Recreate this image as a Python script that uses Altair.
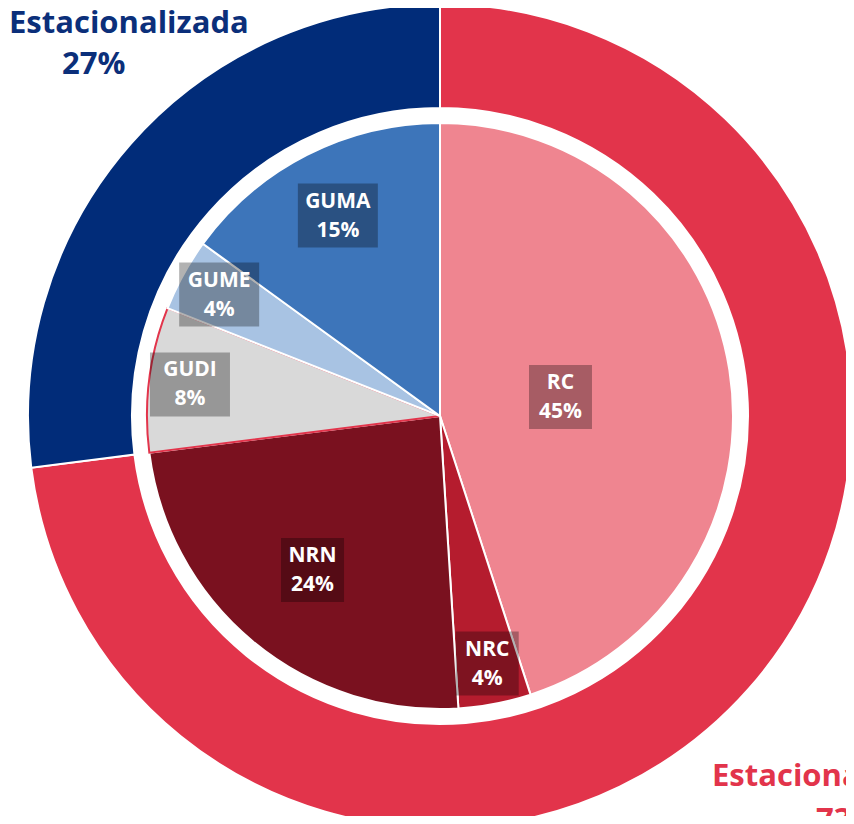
import altair as alt
import pandas as pd

# ---- data ----
outer_labels = ["Estacional", "Estacionalizada"]
outer_values = [73, 27]
outer_colors = ["#e2344b", "#012c79"]

inner_labels = ["RC", "NRC", "NRN", "GUDI", "GUME", "GUMA"]
inner_values = [45, 4, 24, 8, 4, 15]
inner_colors = ["#ef8590", "#b51c2e", "#7a111f", "#d9d9d9", "#a8c3e3", "#3d75ba"]

# ---- layout / style ----
CX, CY = 432, 408
R_OUT, R_OUT_IN, R_IN = 412, 308, 293
FONT = "Open Sans"

outer_df = pd.DataFrame({"label": outer_labels, "value": outer_values,
                         "color": outer_colors, "ord": list(range(len(outer_labels)))})
inner_df = pd.DataFrame({"label": inner_labels, "value": inner_values,
                         "color": inner_colors, "ord": list(range(len(inner_labels)))})

outer = alt.Chart(outer_df).mark_arc(
    radius=R_OUT, radius2=R_OUT_IN, stroke="white", strokeWidth=2
).encode(
    theta=alt.Theta("value:Q", stack=True),
    order=alt.Order("ord:Q"),
    color=alt.Color("color:N", scale=None),
    x=alt.value(CX), y=alt.value(CY),
)

inner = alt.Chart(inner_df).mark_arc(radius=R_IN, strokeWidth=2).encode(
    theta=alt.Theta("value:Q", stack=True),
    order=alt.Order("ord:Q"),
    color=alt.Color("color:N", scale=None),
    stroke=alt.condition(alt.datum.label == "GUDI", alt.value("#e2344b"), alt.value("white")),
    x=alt.value(CX), y=alt.value(CY),
)

lab_base = alt.Chart(inner_df).transform_joinaggregate(
    total="sum(value)"
).transform_window(
    cum="sum(value)", sort=[alt.SortField("ord")], frame=[None, 0]
).transform_calculate(
    mid="(datum.cum - datum.value/2)/datum.total*2*PI",
    lr="datum.value > 30 ? 122 : datum.value >= 20 ? 200 : datum.value >= 10 ? 225 : 252",
    lx=f"{CX} + datum.lr*sin(datum.mid)",
    ly=f"{CY} - datum.lr*cos(datum.mid)",
    pct="datum.value + '%'",
    txt="datum.label + '\\n' + datum.pct",
    w="17*max(length(datum.label), length(datum.pct)) + 12",
    h="64",
).transform_calculate(
    bx="datum.lx - datum.w/2", bx2="datum.lx + datum.w/2",
    by="datum.ly - datum.h/2", by2="datum.ly + datum.h/2",
)

boxes = lab_base.mark_rect(color="black", opacity=0.3).encode(
    x=alt.X("bx:Q", scale=None, axis=None), x2="bx2:Q",
    y=alt.Y("by:Q", scale=None, axis=None), y2="by2:Q",
)

texts = lab_base.mark_text(
    color="white", font=FONT, fontSize=21, fontWeight="bold", dy=-14,
    lineBreak="\n", lineHeight=29, align="center", baseline="middle",
).encode(
    x=alt.X("lx:Q", scale=None, axis=None),
    y=alt.Y("ly:Q", scale=None, axis=None),
    text="txt:N",
)

ann_df = pd.DataFrame({"name": outer_labels, "pct": [f"{v}%" for v in outer_values]})

def ann(idx, field, x, y, color):
    return alt.Chart(ann_df.iloc[[idx]]).mark_text(
        font=FONT, fontSize=31, fontWeight="bold", align="left", baseline="alphabetic", color=color
    ).encode(text=f"{field}:N", x=alt.value(x), y=alt.value(y))

a1 = ann(1, "name", 1, 25, "#0b2f7a")
a2 = ann(1, "pct", 54, 66, "#0b2f7a")
a3 = ann(0, "name", 704, 778, "#e2344b")
a4 = ann(0, "pct", 808, 822, "#e2344b")

chart = alt.layer(outer, inner, boxes, texts, a1, a2, a3, a4).resolve_scale(
    theta="independent"
).properties(
    width=838, height=808, autosize=alt.AutoSizeParams(type="none"), padding=0
).configure_view(stroke=None)

chart.save("out.html", embed_options={"renderer": "svg", "actions": False})
